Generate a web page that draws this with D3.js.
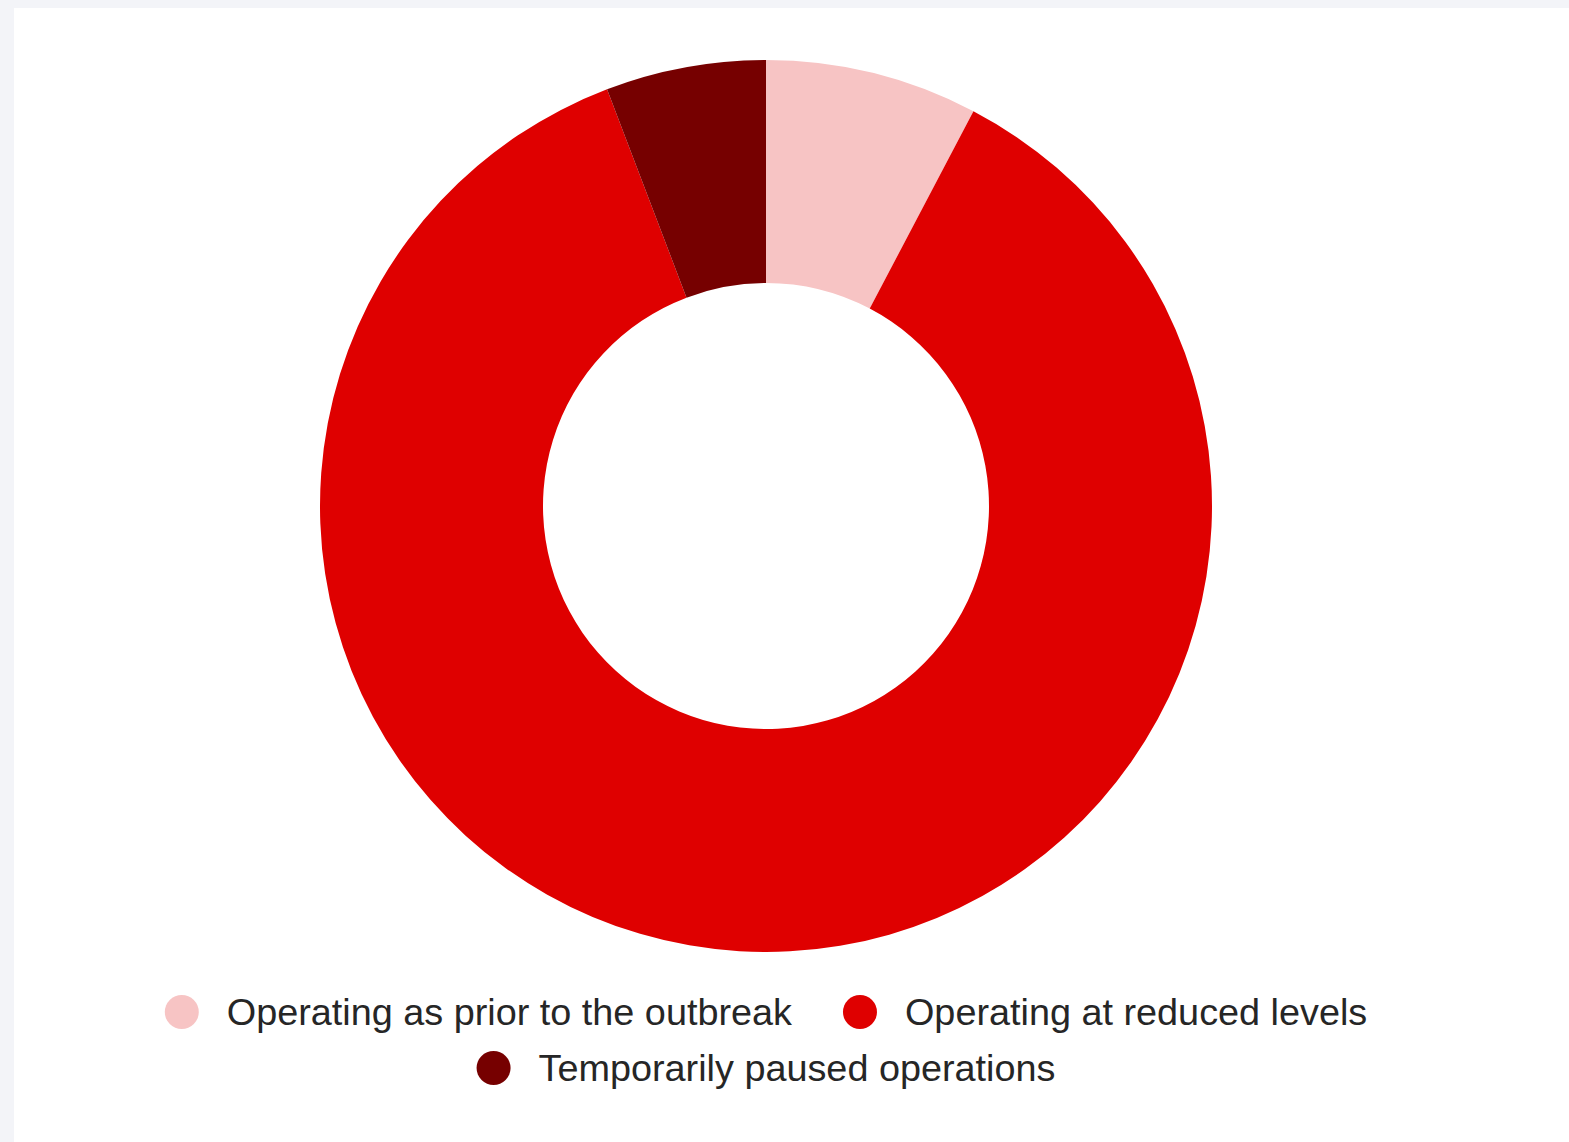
<!DOCTYPE html>
<html>
<head>
<meta charset="utf-8">
<script src="https://cdn.jsdelivr.net/npm/d3@7"></script>
<style>
  html, body { margin: 0; padding: 0; background: #f3f4f8; }
  svg { display: block; }
</style>
</head>
<body>
<svg id="chart" width="1569" height="1142"></svg>
<script>
// Share of businesses by operating status
const categories = [
  "Operating as prior to the outbreak",
  "Operating at reduced levels",
  "Temporarily paused operations"
];
const values = [7.7, 86.5, 5.8];
const colors = ["#f7c4c4", "#df0000", "#760000"];

const W = 1569, H = 1142;
const svg = d3.select("#chart");

// white card
svg.append("rect")
  .attr("x", 14).attr("y", 8)
  .attr("width", W - 14).attr("height", H - 8)
  .attr("fill", "#ffffff");

const cx = 766, cy = 506, outerR = 446, innerR = 223;

const data = categories.map((c, i) => ({ name: c, value: values[i], color: colors[i] }));

const pie = d3.pie().value(d => d.value).sort(null);
const arc = d3.arc().innerRadius(innerR).outerRadius(outerR);

svg.append("g")
  .attr("transform", `translate(${cx},${cy})`)
  .selectAll("path")
  .data(pie(data))
  .join("path")
  .attr("d", arc)
  .attr("fill", d => d.data.color);

// legend: two centred rows
const fontSize = 37.8;
const rows = [[0, 1], [2]];
const rowY = [1012, 1068];
const dotR = 17, textGap = 45, itemGap = 51;

const legend = svg.append("g");
rows.forEach((row, ri) => {
  const g = legend.append("g");
  let x = 0;
  row.forEach((idx, k) => {
    const item = g.append("g").attr("transform", `translate(${x},0)`);
    item.append("circle")
      .attr("cx", dotR).attr("cy", 0).attr("r", dotR)
      .attr("fill", colors[idx]);
    const t = item.append("text")
      .attr("x", dotR + textGap)
      .attr("y", 0)
      .attr("dy", "0.34em")
      .attr("font-family", "'Liberation Sans', Arial, sans-serif")
      .attr("font-size", fontSize)
      .attr("fill", "#262626")
      .text(categories[idx]);
    const w = dotR + textGap + t.node().getComputedTextLength();
    x += w + (k < row.length - 1 ? itemGap : 0);
  });
  g.attr("transform", `translate(${cx - x / 2},${rowY[ri]})`);
});
</script>
</body>
</html>
